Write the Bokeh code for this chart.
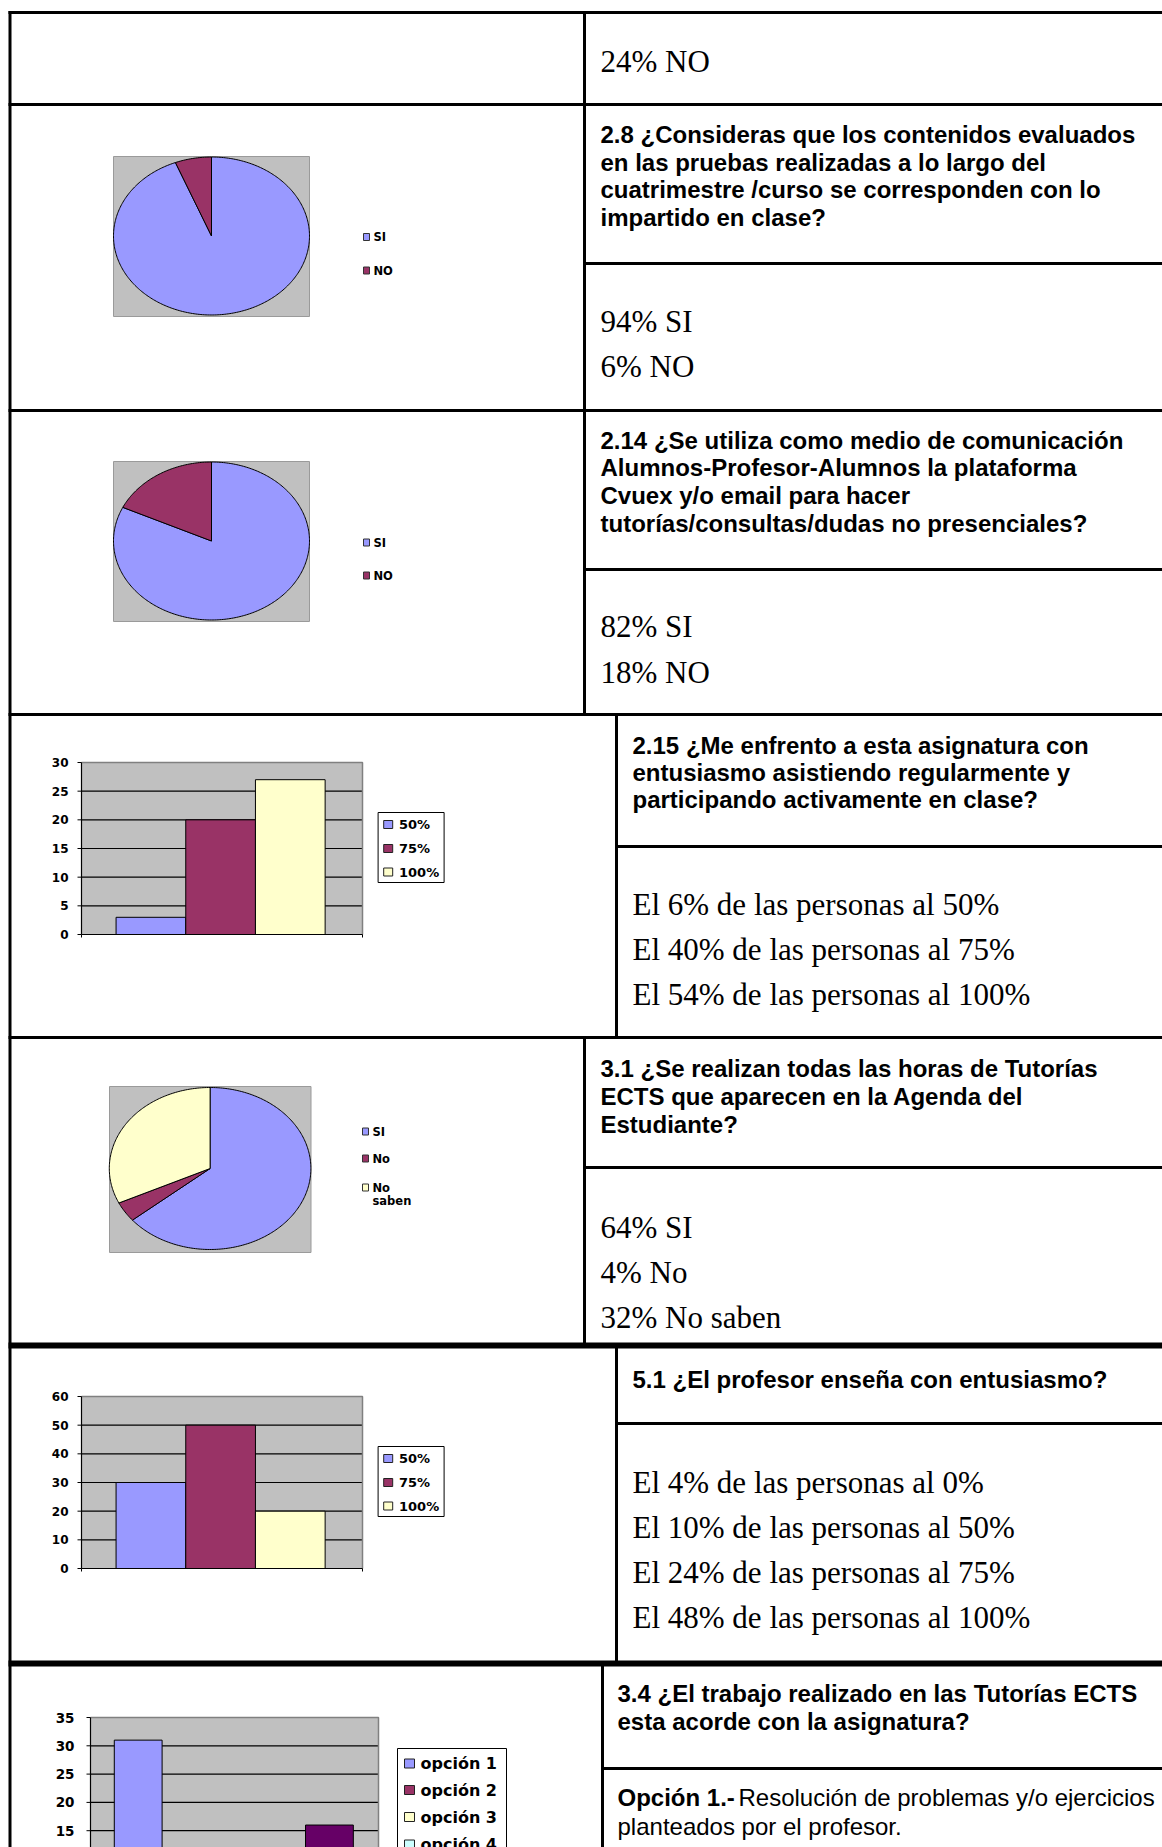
import numpy as np
from bokeh.plotting import figure
from bokeh.models import Range1d
from bokeh.core.properties import value
from bokeh.embed import file_html
from bokeh.resources import INLINE

# ------------------------------------------------------------------ data
top_answer = ["24% NO"]

q28_lines = ["2.8 ¿Consideras que los contenidos evaluados",
             "en las pruebas realizadas a lo largo del",
             "cuatrimestre /curso se corresponden con lo",
             "impartido en clase?"]
a28_lines = ["94% SI", "6% NO"]
pie28_labels = ["SI", "NO"]
pie28_values = [94, 6]

q214_lines = ["2.14 ¿Se utiliza como medio de comunicación",
              "Alumnos-Profesor-Alumnos la plataforma",
              "Cvuex y/o email para hacer",
              "tutorías/consultas/dudas no presenciales?"]
a214_lines = ["82% SI", "18% NO"]
pie214_labels = ["SI", "NO"]
pie214_values = [82, 18]

q215_lines = ["2.15 ¿Me enfrento a esta asignatura con",
              "entusiasmo asistiendo regularmente y",
              "participando activamente en clase?"]
a215_lines = ["El 6% de las personas al 50%",
              "El 40% de las personas al 75%",
              "El 54% de las personas al 100%"]
bar215_labels = ["50%", "75%", "100%"]
bar215_values = [3, 20, 27]
bar215_ticks = [0, 5, 10, 15, 20, 25, 30]

q31_lines = ["3.1 ¿Se realizan todas las horas de Tutorías",
             "ECTS que aparecen en la Agenda del",
             "Estudiante?"]
a31_lines = ["64% SI", "4% No", "32% No saben"]
pie31_labels = ["SI", "No", "No\nsaben"]
pie31_values = [64, 4, 32]

q51_lines = ["5.1 ¿El profesor enseña con entusiasmo?"]
a51_lines = ["El 4% de las personas al 0%",
             "El 10% de las personas al 50%",
             "El 24% de las personas al 75%",
             "El 48% de las personas al 100%"]
bar51_labels = ["50%", "75%", "100%"]
bar51_values = [30, 50, 20]
bar51_ticks = [0, 10, 20, 30, 40, 50, 60]

q34_lines = ["3.4 ¿El trabajo realizado en las Tutorías ECTS",
             "esta acorde con la asignatura?"]
a34_bold = "Opción 1.-"
a34_lines = [" Resolución de problemas y/o ejercicios", "planteados por el profesor."]
bar34_labels = ["opción 1", "opción 2", "opción 3", "opción 4", "opción 5"]
bar34_values = [31, 9, 4, 7, 16]
bar34_ticks = [0, 5, 10, 15, 20, 25, 30, 35]

excel_colors = ["#9999FF", "#993366", "#FFFFCC", "#CCFFFF", "#660066"]

# ------------------------------------------------------------------ page / figure
FX0, FX1 = 0, 1162        # page x at frame left / right
FY_BOT, FY_TOP = 1847, 0  # page y at frame bottom / top
PAGE_BOTTOM = 1847

p = figure(width=FX1 - FX0, height=FY_BOT - FY_TOP,
           x_range=Range1d(FX0, FX1), y_range=Range1d(FY_BOT, FY_TOP),
           output_backend="svg", toolbar_location=None, min_border=0,
           x_axis_location=None, y_axis_location=None)
p.grid.visible = False
p.outline_line_color = None
p.background_fill_color = "white"
p.border_fill_color = "white"

SANS = value("Liberation Sans")
SERIF = value("Liberation Serif")
CHART = value("DejaVu Sans")


def xr(v0, P0, v1, P1):
    s = (P1 - P0) / (v1 - v0)
    return Range1d(v0 + (FX0 - P0) / s, v0 + (FX1 - P0) / s)


def yr(v0, P0, v1, P1):
    s = (P1 - P0) / (v1 - v0)
    return Range1d(start=v0 + (FY_BOT - P0) / s, end=v0 + (FY_TOP - P0) / s)


# ------------------------------------------------------------------ table rules
RX = 1170
hl = [  # y, x0, x1, width
    (12, 8, RX, 3), (104, 8, RX, 3), (410, 8, RX, 3), (714, 8, RX, 3),
    (1037, 8, RX, 3), (1345, 8, RX, 6), (1663, 8, RX, 6),
    (263, 584, RX, 3), (569, 584, RX, 3), (846, 615, RX, 3),
    (1167, 584, RX, 3), (1423, 615, RX, 3), (1768, 602, RX, 3),
]
vl = [  # x, y0, y1
    (9.5, 10.5, 1850), (584, 12, 714), (616, 714, 1037),
    (584, 1037, 1345), (616, 1345, 1663), (602, 1663, 1850),
]
for w in (3, 6):
    sel = [h for h in hl if h[3] == w]
    p.segment(x0=[h[1] for h in sel], x1=[h[2] for h in sel],
              y0=[h[0] for h in sel], y1=[h[0] for h in sel],
              line_color="black", line_width=w)
p.segment(x0=[v[0] for v in vl], x1=[v[0] for v in vl],
          y0=[v[1] for v in vl], y1=[v[2] for v in vl],
          line_color="black", line_width=3)


# ------------------------------------------------------------------ texts
def lines(x, y0, items, step, font, size, bold):
    p.text(x=[x] * len(items), y=[y0 + i * step for i in range(len(items))],
           text=items, text_font=font, text_font_size=size,
           text_font_style="bold" if bold else "normal",
           text_align="left", text_baseline="middle", text_color="black")


QS, QF = 27.7, "24px"
AF = "31px"
lines(600, 61, top_answer, 45, SERIF, AF, False)
lines(600, 134, q28_lines, QS, SANS, QF, True)
lines(600, 321, a28_lines, 45, SERIF, AF, False)
lines(600, 439.5, q214_lines, QS, SANS, QF, True)
lines(600, 626, a214_lines, 46, SERIF, AF, False)
lines(632, 744.5, q215_lines, 27.3, SANS, QF, True)
lines(632, 904, a215_lines, 45, SERIF, AF, False)
lines(600, 1067.5, q31_lines, 28, SANS, QF, True)
lines(600, 1226.5, a31_lines, 45, SERIF, AF, False)
lines(632, 1378.5, q51_lines, 28, SANS, QF, True)
lines(632, 1482, a51_lines, 45, SERIF, AF, False)
lines(617, 1693, q34_lines, 28, SANS, QF, True)
lines(617, 1797, [a34_bold], 27, SANS, QF, True)
lines(738, 1797, a34_lines[:1], 27, SANS, QF, False)
lines(617, 1826, a34_lines[1:], 27, SANS, QF, False)


# ------------------------------------------------------------------ pies
def pie(name, box, cx, cy, rx, ry, labels, values, leg_mx, leg_tx, leg_ys):
    bx0, by0, bx1, by1 = box
    p.quad(left=bx0, right=bx1, top=by0, bottom=by1, fill_color="#C0C0C0",
           line_color="#9A9A9A", line_width=1)
    p.extra_x_ranges[name] = xr(-1, cx - rx, 1, cx + rx)
    p.extra_y_ranges[name] = yr(-1, cy + ry, 1, cy - ry)
    tot = float(sum(values))
    fr = np.concatenate([[0.0], np.cumsum(values) / tot])
    xs, ys = [], []
    for a, b in zip(fr[:-1], fr[1:]):
        th = np.linspace(a, b, max(int((b - a) * 360), 2) + 1) * 2 * np.pi
        xs.append(np.concatenate([[0.0], np.sin(th)]))
        ys.append(np.concatenate([[0.0], np.cos(th)]))
    p.patches(xs, ys, fill_color=excel_colors[:len(values)], line_color="black",
              line_width=1, x_range_name=name, y_range_name=name)
    # legend
    p.rect(x=[leg_mx] * len(labels), y=leg_ys, width=6, height=7,
           fill_color=excel_colors[:len(labels)], line_color="#333333", line_width=1)
    for lab, y in zip(labels, leg_ys):
        parts = lab.split("\n")
        p.text(x=[leg_tx] * len(parts), y=[y + 13.5 * i for i in range(len(parts))],
               text=parts, text_font=CHART, text_font_style="bold",
               text_font_size="11.5px", text_baseline="middle", text_align="left",
               text_color="black")


pie("pie28", (113, 156, 309, 316), 211, 235.5, 98, 79, pie28_labels, pie28_values,
    366, 373, [236.5, 270])
pie("pie214", (113, 461, 309, 621), 211, 540.5, 98, 79, pie214_labels, pie214_values,
    366, 373, [542, 575])
pie("pie31", (109, 1086, 310.5, 1252), 209.6, 1168, 100.8, 81, pie31_labels, pie31_values,
    365, 372, [1131, 1158, 1187])


# ------------------------------------------------------------------ bar charts
def bars(name, box, vmax, ticks, labels, values, centers, width, tick_fs, tick_right,
         leg_box, leg_ys, leg_mx, leg_tx, leg_fs, msize):
    x0, ytop, x1, ybot = box
    p.extra_x_ranges[name] = xr(0, x0, 1, x1)
    p.extra_y_ranges[name] = yr(0, ybot, vmax, ytop)
    kw = dict(x_range_name=name, y_range_name=name)
    p.quad(left=0, right=1, bottom=0, top=vmax, fill_color="#C0C0C0", line_color=None, **kw)
    grid = [t for t in ticks if 0 < t < vmax]
    p.segment(x0=0, x1=1, y0=grid, y1=grid, line_color="black", line_width=1.2, **kw)
    p.line(x=[0, 1, 1], y=[vmax, vmax, 0], line_color="#808080", line_width=1.5, **kw)
    p.vbar(x=centers, width=width, bottom=0, top=values,
           fill_color=excel_colors[:len(values)], line_color="black", line_width=1, **kw)
    p.segment(x0=[0, 0], y0=[0, 0], x1=[0, 1], y1=[vmax, 0], line_color="black",
              line_width=1.2, **kw)
    p.segment(x0=x0 - 4, x1=x0, y0=ticks, y1=ticks, line_color="black", line_width=1,
              y_range_name=name)
    p.segment(x0=[0, 1], x1=[0, 1], y0=ybot, y1=ybot + 3, line_color="black",
              line_width=1, x_range_name=name)
    # only the tick labels that fall on the page
    shown = [t for t in ticks if ybot - t / vmax * (ybot - ytop) < PAGE_BOTTOM]
    p.text(x=tick_right, y=shown, text=[str(t) for t in shown], text_font=CHART,
           text_font_style="bold", text_font_size=tick_fs, text_align="right",
           text_baseline="middle", text_color="black", y_range_name=name)
    # legend
    lx0, ly0, lx1, ly1 = leg_box
    p.quad(left=lx0, right=lx1, top=ly0, bottom=ly1, fill_color="white",
           line_color="black", line_width=1)
    keep = [i for i, y in enumerate(leg_ys) if y < PAGE_BOTTOM + 4]
    p.rect(x=[leg_mx] * len(keep), y=[leg_ys[i] for i in keep], width=msize[0],
           height=msize[1], fill_color=[excel_colors[i] for i in keep],
           line_color="#222222", line_width=1)
    p.text(x=[leg_tx] * len(keep), y=[leg_ys[i] for i in keep],
           text=[labels[i] for i in keep], text_font=CHART,
           text_font_style="bold", text_font_size=leg_fs, text_align="left",
           text_baseline="middle", text_color="black")


bars("bar215", (81, 762, 362, 934), 30, bar215_ticks, bar215_labels, bar215_values,
     [0.247, 0.495, 0.743], 0.248, "12px", 68,
     (377.6, 812, 443.6, 882), [824, 848, 871.5], 387.7, 398.5, "13px", (9, 8))
bars("bar51", (81, 1396, 362, 1568), 60, bar51_ticks, bar51_labels, bar51_values,
     [0.247, 0.495, 0.743], 0.248, "12px", 68,
     (377.6, 1446, 443.6, 1516), [1458, 1482, 1505.5], 387.7, 398.5, "13px", (9, 8))
bars("bar34", (90, 1717, 378, 1717 + 35 * 5.66), 35, bar34_ticks, bar34_labels, bar34_values,
     [0.1656 + 0.166 * i for i in range(5)], 0.166, "13.5px", 74,
     (397, 1748, 506, 1900), [1763, 1789.5, 1816.5, 1844, 1870.5], 409, 420, "16px", (10, 9))

open("out.html", "w").write(file_html(p, INLINE))
